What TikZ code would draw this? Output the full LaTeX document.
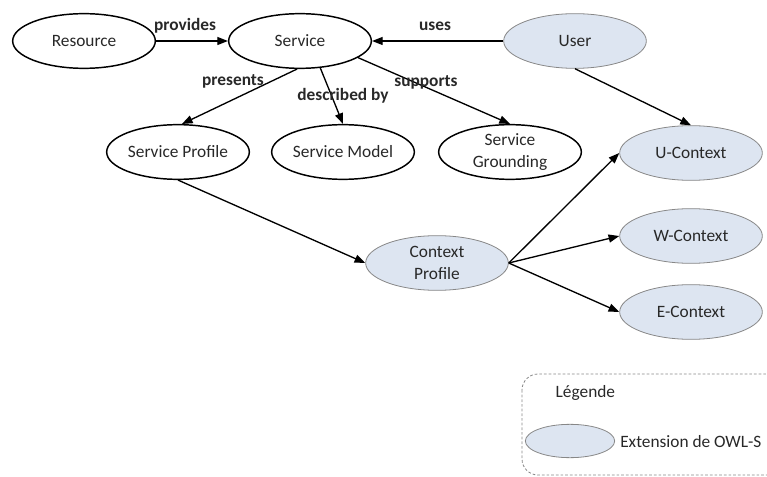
\documentclass[tikz,border=0pt]{standalone}
\usepackage{fontspec}
\setmainfont{Carlito}
\usepackage{xcolor}
\usepackage{tikz}
\usetikzlibrary{positioning,shapes.geometric,arrows.meta}
\definecolor{ExtBlue}{RGB}{221,229,241}
\definecolor{ExtGray}{RGB}{135,135,135}
\definecolor{TextGray}{RGB}{40,40,40}
\tikzset{
    owlnode/.style={ellipse, draw=black, line width=1.1pt, fill=white, text=TextGray,
        minimum width=107pt, minimum height=41pt, inner sep=0pt, align=center,
        font=\fontsize{13}{16.5}\selectfont},
    extnode/.style={owlnode, draw=ExtGray, line width=0.6pt, fill=ExtBlue},
    rellabel/.style={font=\bfseries\fontsize{13}{15}\selectfont, text=TextGray, inner sep=0pt},
    relarrow/.style={draw=black, line width=1pt, -{Triangle[length=8pt,width=6pt]}}
}

\begin{document}
\begin{tikzpicture}[x=0.75pt, y=-0.75pt]
        % Cadre de l'image
        \clip (0,0) rectangle (767,477);

        % --- NOEUDS OWL-S ---
        \node[owlnode] (resource) at (84,41) {Resource};
        \node[owlnode] (service) at (300,41) {Service};
        \node[owlnode] (sprofile) at (178,152) {Service Profile};
        \node[owlnode] (smodel) at (343,152) {Service Model};
        \node[owlnode] (sgrounding) at (510,152) {Service\\Grounding};

        % --- NOEUDS DE L'EXTENSION ---
        \node[extnode] (user) at (575,41) {User};
        \node[extnode, font=\fontsize{13}{17}\selectfont] (cprofile) at (437,263) {Context\\Profile};
        \node[extnode] (ucontext) at (691,153) {U-Context};
        \node[extnode] (wcontext) at (691,236) {W-Context};
        \node[extnode] (econtext) at (691,312) {E-Context};

        % --- RELATIONS ---
        \draw[relarrow] (resource.east) -- (service.west);
        \draw[relarrow] (user.west) -- (service.east);
        \draw[relarrow] (service.-96) -- (sprofile.82);
        \draw[relarrow] (service.-53) -- (smodel.north);
        \draw[relarrow] (service.-16) -- (sgrounding.north);
        \draw[relarrow] (user.south) -- (ucontext.north);
        \draw[relarrow] (sprofile.south) -- (cprofile.west);
        \draw[relarrow] (cprofile.east) -- (ucontext.west);
        \draw[relarrow] (cprofile.east) -- (wcontext.west);
        \draw[relarrow] (cprofile.east) -- (econtext.west);

        % Etiquettes des relations
        \node[rellabel] (lprovides) at (185,26) {provides};
        \node[rellabel] (luses) at (435,26) {uses};
        \node[rellabel] (lpresents) at (233,81) {presents};
        \node[rellabel] (ldescribed) at (343,96) {described by};
        \node[rellabel] (lsupports) at (426,82) {supports};

        % --- LEGENDE ---
        \draw[ExtGray, line width=0.6pt, dash pattern=on 2pt off 1.5pt, rounded corners=12pt]
            (522,374) rectangle (790,475);
        \node[font=\fontsize{13}{15}\selectfont, text=TextGray, anchor=west] (llegende) at (551,393) {Légende};
        \node[extnode, minimum width=67pt, minimum height=25pt] (lext) at (570,441) {};
        \node[font=\fontsize{13}{15}\selectfont, text=TextGray, anchor=west, inner sep=0pt] (lexttext) at (620,442) {Extension de OWL-S};
    \end{tikzpicture}
\end{document}
